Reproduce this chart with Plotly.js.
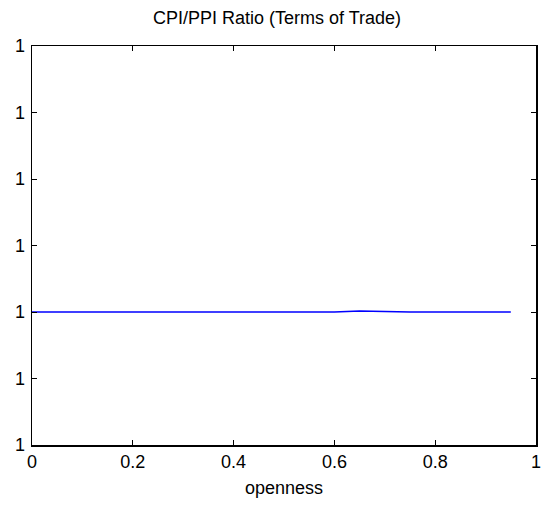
<!DOCTYPE html>
<html>
<head>
<meta charset="utf-8">
<script src="https://cdn.plot.ly/plotly-3.0.1.min.js"></script>
<style>html,body{margin:0;padding:0;background:#fff;}#chart{width:554px;height:520px;}</style>
</head>
<body>
<div id="chart"></div>
<script>
// openness grid
var openness = [0, 0.05, 0.10, 0.15, 0.20, 0.25, 0.30, 0.35, 0.40, 0.45, 0.50, 0.55, 0.60, 0.65, 0.70, 0.75, 0.80, 0.85, 0.90, 0.95];
// CPI/PPI ratio (terms of trade), essentially constant at 1
var cpiPpiRatio = [1.000020, 1.000020, 1.000020, 1.000020, 1.000020, 1.000020, 1.000020, 1.000020, 1.000020, 1.000020,
                   1.000020, 1.000020, 1.000020, 1.0000203, 1.0000201, 1.000020, 1.000020, 1.0000199, 1.000020, 1.000020];
var yTickVals = [0.99998, 1.00000, 1.00002, 1.00004, 1.00006, 1.00008, 1.00010];
var yTickText = ['1', '1', '1', '1', '1', '1', '1'];
var xTickVals = [0, 0.2, 0.4, 0.6, 0.8, 1];
var xTickText = ['0', '0.2', '0.4', '0.6', '0.8', '1'];

var font = {family: 'Liberation Sans, Arial, sans-serif', size: 18, color: '#000'};

Plotly.newPlot('chart', [{
  x: openness,
  y: cpiPpiRatio,
  type: 'scatter',
  mode: 'lines',
  line: {color: '#0000ff', width: 1.5},
  hoverinfo: 'skip'
}], {
  width: 554,
  height: 520,
  margin: {l: 32, r: 18, t: 46, b: 75, pad: 0},
  paper_bgcolor: '#fff',
  plot_bgcolor: '#fff',
  showlegend: false,
  font: font,
  title: {text: 'CPI/PPI Ratio (Terms of Trade)', font: font, x: 0.5, xanchor: 'center', y: 1 - 18/520, yanchor: 'middle'},
  xaxis: {
    range: [0, 1],
    tickvals: xTickVals,
    ticktext: xTickText,
    ticks: 'inside',
    ticklen: 5,
    tickwidth: 1,
    tickcolor: '#000',
    showline: true,
    linecolor: '#000',
    linewidth: 1.5,
    mirror: 'ticks',
    showgrid: false,
    zeroline: false,
    tickfont: font,
    title: {text: 'openness', font: font, standoff: 10}
  },
  yaxis: {
    range: [0.99998, 1.00010],
    tickvals: yTickVals,
    ticktext: yTickText,
    ticks: 'inside',
    ticklen: 5,
    tickwidth: 1,
    tickcolor: '#000',
    showline: true,
    linecolor: '#000',
    linewidth: 1.5,
    mirror: 'ticks',
    showgrid: false,
    zeroline: false,
    tickfont: font,
    ticklabelstandoff: 2
  }
}, {staticPlot: true, displayModeBar: false});
</script>
</body>
</html>
